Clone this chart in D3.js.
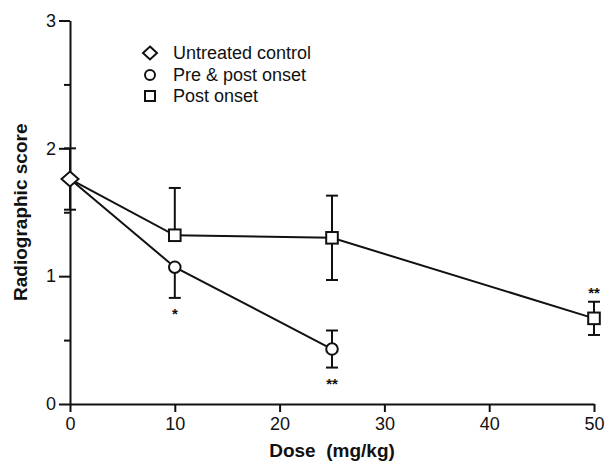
<!DOCTYPE html>
<html>
<head>
<meta charset="utf-8">
<script src="https://cdn.jsdelivr.net/npm/d3@7.9.0/dist/d3.min.js"></script>
<style>
  body { margin: 0; background: #fff; }
  svg { display: block; font-family: "Liberation Sans", Arial, Helvetica, sans-serif; }
</style>
</head>
<body>
<svg id="chart" width="609" height="463"></svg>
<script>
// data
const controlDose = 0;
const controlScore = 1.76;
const controlSem = 0.24;

const preDoses = [10, 25];
const preScores = [1.07, 0.43];
const preSem = [0.24, 0.145];
const preBars = ['down', 'both'];     // which side of the error bar is drawn
const preStars = ['*', '**'];        // shown below the point

const postDoses = [10, 25, 50];
const postScores = [1.32, 1.30, 0.67];
const postSem = [0.37, 0.33, 0.13];
const postBars = ['up', 'both', 'both'];
const postStars = ['', '', '**'];    // shown above the point

const xTicks = [0, 10, 20, 30, 40, 50];
const yTicks = [0, 1, 2, 3];
const yMinor = [0.5, 1.5, 2.5];
const legendLabels = ['Untreated control', 'Pre & post onset', 'Post onset'];

const svg = d3.select('#chart');

const x = d3.scaleLinear().domain([0, 50]).range([70, 594]);
const y = d3.scaleLinear().domain([0, 3]).range([404, 20.5]);

// axes
const xAxis = d3.axisBottom(x).tickValues(xTicks).tickSize(8).tickPadding(5).tickSizeOuter(0);
const gx = svg.append('g').attr('transform', `translate(0,${y(0)})`).call(xAxis);

const yAxis = d3.axisLeft(y).tickValues(yTicks).tickSize(11).tickPadding(3).tickSizeOuter(0).tickFormat(d3.format('d'));
const gy = svg.append('g').attr('transform', `translate(${x(0)},0)`).call(yAxis);

const yAxisMinor = d3.axisLeft(y).tickValues(yMinor).tickSize(6).tickSizeOuter(0).tickFormat('');
const gym = svg.append('g').attr('transform', `translate(${x(0)},0)`).call(yAxisMinor);
gym.select('.domain').remove();

[gx, gy, gym].forEach(g => {
    g.selectAll('path, line').attr('stroke', '#111').attr('stroke-width', 2);
    g.selectAll('text').attr('font-size', 18).attr('fill', '#111');
});

// axis titles
svg.append('text')
    .attr('x', x(25)).attr('y', 457)
    .attr('text-anchor', 'middle')
    .attr('font-size', 19).attr('font-weight', 'bold')
    .attr('fill', '#111')
    .attr('xml:space', 'preserve')
    .text('Dose  (mg/kg)');

svg.append('text')
    .attr('transform', `translate(27,${y(1.5) - 0})rotate(-90)`)
    .attr('text-anchor', 'middle')
    .attr('font-size', 19).attr('font-weight', 'bold')
    .attr('fill', '#111')
    .text('Radiographic score');

// build point lists
const control = { dose: controlDose, score: controlScore, sem: controlSem, bar: 'both', star: '' };
const pre = preDoses.map((d, i) => ({ dose: d, score: preScores[i], sem: preSem[i], bar: preBars[i], star: preStars[i] }));
const post = postDoses.map((d, i) => ({ dose: d, score: postScores[i], sem: postSem[i], bar: postBars[i], star: postStars[i] }));

const line = d3.line().x(d => x(d.dose)).y(d => y(d.score));

svg.append('path').datum([control, ...pre])
    .attr('d', line).attr('fill', 'none').attr('stroke', '#111').attr('stroke-width', 2);
svg.append('path').datum([control, ...post])
    .attr('d', line).attr('fill', 'none').attr('stroke', '#111').attr('stroke-width', 2);

// error bars
function errorBars(points) {
    points.forEach(p => {
        const cx = x(p.dose);
        const ends = [];
        if (p.bar === 'up' || p.bar === 'both') ends.push(p.score + p.sem);
        if (p.bar === 'down' || p.bar === 'both') ends.push(p.score - p.sem);
        ends.forEach(v => {
            svg.append('line')
                .attr('x1', cx).attr('x2', cx)
                .attr('y1', y(p.score)).attr('y2', y(v))
                .attr('stroke', '#111').attr('stroke-width', 2);
            svg.append('line')
                .attr('x1', cx - 6).attr('x2', cx + 6)
                .attr('y1', y(v)).attr('y2', y(v))
                .attr('stroke', '#111').attr('stroke-width', 2);
        });
    });
}
errorBars([control]);
errorBars(pre);
errorBars(post);

// markers
const diamond = (cx, cy, w, h) => `M${cx},${cy - h / 2}L${cx + w / 2},${cy}L${cx},${cy + h / 2}L${cx - w / 2},${cy}Z`;

svg.append('path')
    .attr('d', diamond(x(control.dose), y(control.score), 17, 15))
    .attr('fill', '#fff').attr('stroke', '#111').attr('stroke-width', 2);

svg.selectAll('circle.pre').data(pre).join('circle')
    .attr('class', 'pre')
    .attr('cx', d => x(d.dose)).attr('cy', d => y(d.score)).attr('r', 5.8)
    .attr('fill', '#fff').attr('stroke', '#111').attr('stroke-width', 2);

svg.selectAll('rect.post').data(post).join('rect')
    .attr('class', 'post')
    .attr('x', d => x(d.dose) - 5.8).attr('y', d => y(d.score) - 5.8)
    .attr('width', 11.6).attr('height', 11.6)
    .attr('fill', '#fff').attr('stroke', '#111').attr('stroke-width', 2);

// significance stars
pre.filter(d => d.star).forEach(d => {
    svg.append('text')
        .attr('x', x(d.dose)).attr('y', y(d.score - d.sem) + 21)
        .attr('text-anchor', 'middle')
        .attr('font-size', 15).attr('font-weight', 'bold').attr('fill', '#111')
        .text(d.star);
});
post.filter(d => d.star).forEach(d => {
    svg.append('text')
        .attr('x', x(d.dose)).attr('y', y(d.score + d.sem) - 4)
        .attr('text-anchor', 'middle')
        .attr('font-size', 15).attr('font-weight', 'bold').attr('fill', '#111')
        .text(d.star);
});

// legend
const legendY = [53, 75, 96];
const lg = svg.append('g');
legendLabels.forEach((label, i) => {
    const cy = legendY[i];
    if (i === 0) {
        lg.append('path').attr('d', diamond(150, cy, 14, 13));
    } else if (i === 1) {
        lg.append('circle').attr('cx', 150).attr('cy', cy).attr('r', 5);
    } else {
        lg.append('rect').attr('x', 145).attr('y', cy - 5).attr('width', 10).attr('height', 10);
    }
    lg.append('text')
        .attr('x', 173).attr('y', cy)
        .attr('dy', '0.35em')
        .attr('font-size', 18).attr('fill', '#111')
        .text(label);
});
lg.selectAll('path, circle, rect')
    .attr('fill', '#fff').attr('stroke', '#111').attr('stroke-width', 2);
</script>
</body>
</html>
